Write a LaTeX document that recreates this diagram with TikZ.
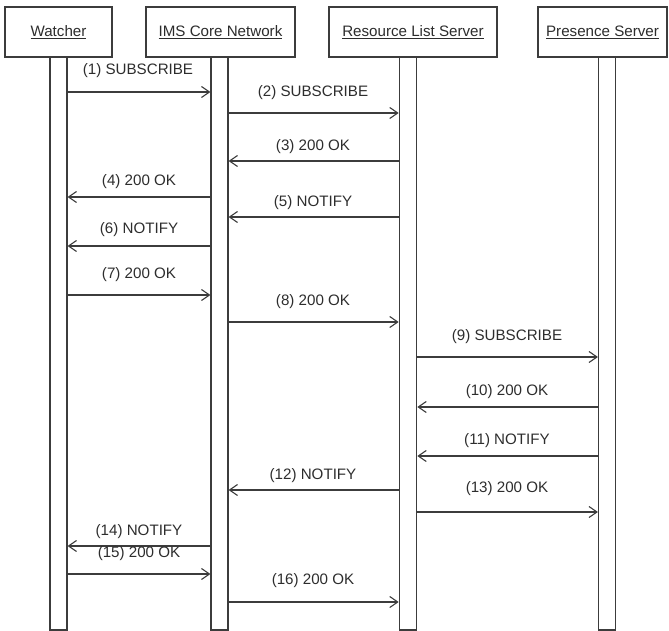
\documentclass[tikz,border=0pt]{standalone}
\usepackage{fontspec}
\setmainfont{Liberation Sans}
\definecolor{gristrait}{RGB}{60,60,60}
\definecolor{gristexte}{RGB}{45,45,45}
\usetikzlibrary{arrows.meta,positioning}

\begin{document}
\begin{tikzpicture}[x=1bp,y=-1bp,font=\fontsize{15.2}{18}\selectfont,
	acteur/.style={draw=gristrait,line width=1.1bp,fill=white,text=gristexte,inner sep=0pt,minimum height=50bp},
	barre/.style={draw=gristrait,line width=1.1bp,fill=white,inner sep=0pt,minimum width=17bp,minimum height=573bp},
	msg/.style={gristrait,line width=1.1bp,-{Straight Barb[length=8bp,width=11bp]}},
	lbl/.style={text=gristexte,inner sep=0pt}]
	\useasboundingbox (0,0) rectangle (669,631);
	% acteurs
	\node[acteur,minimum width=107bp](w) at (58.5,32){\underline{Watcher}};
	\node[acteur,minimum width=149bp](ims) at (220.5,32){\underline{IMS Core Network}};
	\node[acteur,minimum width=168bp](rls) at (413,32){\underline{Resource List Server}};
	\node[acteur,minimum width=129bp](ps) at (602.5,32){\underline{Presence Server}};
	% lignes de vie
	\node[barre](wb) at (58.5,343.5){};
	\node[barre](ib) at (219.5,343.5){};
	\node[barre,minimum width=17.5bp](rb) at (408,343.5){};
	\node[barre](pb) at (607,343.5){};
	% messages
	\node[lbl](l1) at (138,71){(1) SUBSCRIBE};
	\draw[msg](wb.east |- 0,92)--(ib.west |- 0,92);
	\node[lbl](l2) at (313,93){(2) SUBSCRIBE};
	\draw[msg](ib.east |- 0,113)--(rb.west |- 0,113);
	\node[lbl](l3) at (313,147){(3) 200 OK};
	\draw[msg](rb.west |- 0,161)--(ib.east |- 0,161);
	\node[lbl](l4) at (139,182){(4) 200 OK};
	\draw[msg](ib.west |- 0,197)--(wb.east |- 0,197);
	\node[lbl](l5) at (313,203){(5) NOTIFY};
	\draw[msg](rb.west |- 0,217)--(ib.east |- 0,217);
	\node[lbl](l6) at (139,230){(6) NOTIFY};
	\draw[msg](ib.west |- 0,246)--(wb.east |- 0,246);
	\node[lbl](l7) at (139,275){(7) 200 OK};
	\draw[msg](wb.east |- 0,295)--(ib.west |- 0,295);
	\node[lbl](l8) at (313,302){(8) 200 OK};
	\draw[msg](ib.east |- 0,322)--(rb.west |- 0,322);
	\node[lbl](l9) at (507,337){(9) SUBSCRIBE};
	\draw[msg](rb.east |- 0,357)--(pb.west |- 0,357);
	\node[lbl](l10) at (507,392){(10) 200 OK};
	\draw[msg](pb.west |- 0,407)--(rb.east |- 0,407);
	\node[lbl](l11) at (507,441){(11) NOTIFY};
	\draw[msg](pb.west |- 0,456)--(rb.east |- 0,456);
	\node[lbl](l12) at (313,476){(12) NOTIFY};
	\draw[msg](rb.west |- 0,490)--(ib.east |- 0,490);
	\node[lbl](l13) at (507,489){(13) 200 OK};
	\draw[msg](rb.east |- 0,512)--(pb.west |- 0,512);
	\node[lbl](l14) at (139,532){(14) NOTIFY};
	\draw[msg](ib.west |- 0,546)--(wb.east |- 0,546);
	\node[lbl](l15) at (139,554){(15) 200 OK};
	\draw[msg](wb.east |- 0,574)--(ib.west |- 0,574);
	\node[lbl](l16) at (313,581){(16) 200 OK};
	\draw[msg](ib.east |- 0,602)--(rb.west |- 0,602);
\end{tikzpicture}
\end{document}
